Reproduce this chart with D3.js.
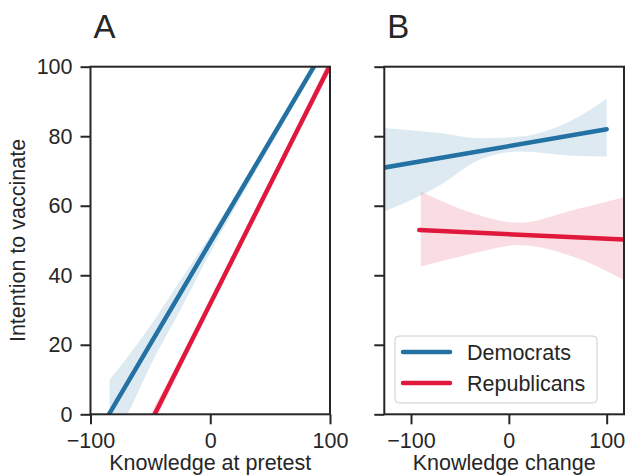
<!DOCTYPE html>
<html><head><meta charset="utf-8">
<script src="https://cdn.jsdelivr.net/npm/d3@7"></script>
<style>
body{margin:0;background:#fff;}
svg text{font-family:"Liberation Sans",Arial,sans-serif;fill:#262626;}
</style></head>
<body><svg id="c" width="627" height="476"></svg>
<script>
// ---------- data ----------
const seriesNames = ["Democrats", "Republicans"];
const colors = ["#2471a3", "#e0183c"];
const yTicks = [0, 20, 40, 60, 80, 100];
const xTicks = [-100, 0, 100];

// Panel A: Knowledge at pretest
const demA_lineX = [-100, 100];
const demA_lineY = [-9.0, 107.9];
const demA_bandX = [-84, -69, -50, -25, 0, 25, 50, 100];
const demA_bandLo = [-9.6, 0, 14, 30, 46.5, 62, 77, 106.8];
const demA_bandHi = [10, 16.5, 25.5, 38.5, 51.5, 65, 79, 109];

const repA_lineX = [-60, 100];
const repA_lineY = [-9.3, 100.4];
const repA_bandX = [-50, 0, 50, 100];
const repA_bandLo = [-5.0, 30.8, 65.4, 98.4];
const repA_bandHi = [0.0, 32.8, 67.4, 102.4];

// Panel B: Knowledge change
const demB_lineX = [-135, 100];
const demB_lineY = [70.6, 82.0];
const demB_bandX = [-135, -125, -70, -30, 11, 65, 100];
const demB_bandLo = [57.5, 58.6, 66.0, 73.2, 75.6, 74.4, 74.2];
const demB_bandHi = [82.5, 82.3, 80.9, 79.4, 79.9, 84.7, 90.8];

const repB_lineX = [-91.5, 125];
const repB_lineY = [53.0, 50.2];
const repB_bandX = [-90, -36, 10, 66, 125];
const repB_bandLo = [42.5, 46.3, 48.7, 45.3, 37.5];
const repB_bandHi = [64.1, 57.8, 55.1, 58.8, 63.0];

// ---------- drawing ----------
const svg = d3.select("#c");
const FS = "21.5px";
const y = d3.scaleLinear().domain([0, 100]).range([414.3, 66.7]);
const xA = d3.scaleLinear().domain([-100, 100]).range([90.5, 330]);
const xB = d3.scaleLinear().domain([-127.3, 117.7]).range([384.3, 624]);

function panel(id, x, dem, rep, showYLabels, xlabel, letter) {
  const g = svg.append("g");
  const [x0, x1] = x.range();
  const [y0, y1] = y.range();
  svg.append("clipPath").attr("id", "clip" + id).append("rect")
    .attr("x", x0).attr("y", y1).attr("width", x1 - x0).attr("height", y0 - y1);
  const plot = g.append("g").attr("clip-path", `url(#clip${id})`);
  [dem, rep].forEach((s, i) => {
    const bd = s.bx.map((v, k) => ({x: v, lo: s.lo[k], hi: s.hi[k]}));
    plot.append("path").datum(bd)
      .attr("d", d3.area().curve(d3.curveMonotoneX).x(d => x(d.x)).y0(d => y(d.lo)).y1(d => y(d.hi)))
      .attr("fill", colors[i]).attr("fill-opacity", 0.15);
  });
  [dem, rep].forEach((s, i) => {
    const ld = s.lx.map((v, k) => ({x: v, y: s.ly[k]}));
    plot.append("path").datum(ld)
      .attr("d", d3.line().x(d => x(d.x)).y(d => y(d.y)))
      .attr("fill", "none").attr("stroke", colors[i]).attr("stroke-width", 4.5)
      .attr("stroke-linecap", "round");
  });
  // axes
  const ax = g.append("g").attr("transform", `translate(0,${y0})`)
    .call(d3.axisBottom(x).tickValues(xTicks).tickSize(10).tickPadding(8)
      .tickFormat(d => d < 0 ? "\u2212" + Math.abs(d) : d));
  const ay = g.append("g").attr("transform", `translate(${x0},0)`)
    .call(d3.axisLeft(y).tickValues(yTicks).tickSize(10).tickPadding(8)
      .tickFormat(showYLabels ? d3.format("d") : () => ""));
  [ax, ay].forEach(a => {
    a.select(".domain").remove();
    a.selectAll(".tick line").attr("stroke", "#262626").attr("stroke-width", 2);
    a.selectAll(".tick text").style("font-size", FS).attr("fill", "#262626");
  });
  // frame
  g.append("rect").attr("x", x0).attr("y", y1).attr("width", x1 - x0).attr("height", y0 - y1)
    .attr("fill", "none").attr("stroke", "#262626").attr("stroke-width", 2);
  g.append("text").attr("x", (x0 + x1) / 2).attr("y", 470).attr("text-anchor", "middle")
    .style("font-size", FS).text(xlabel);
  g.append("text").attr("x", x0 + 3).attr("y", 38).style("font-size", "33px").text(letter);
}

panel("A", xA,
  {lx: demA_lineX, ly: demA_lineY, bx: demA_bandX, lo: demA_bandLo, hi: demA_bandHi},
  {lx: repA_lineX, ly: repA_lineY, bx: repA_bandX, lo: repA_bandLo, hi: repA_bandHi},
  true, "Knowledge at pretest", "A");
panel("B", xB,
  {lx: demB_lineX, ly: demB_lineY, bx: demB_bandX, lo: demB_bandLo, hi: demB_bandHi},
  {lx: repB_lineX, ly: repB_lineY, bx: repB_bandX, lo: repB_bandLo, hi: repB_bandHi},
  false, "Knowledge change", "B");

svg.append("text").attr("transform", "translate(25,240.5) rotate(-90)")
  .attr("text-anchor", "middle").style("font-size", FS).text("Intention to vaccinate");

// legend
const leg = svg.append("g").attr("transform", "translate(395,336)");
leg.append("rect").attr("width", 202).attr("height", 67).attr("rx", 4)
  .attr("fill", "#fff").attr("fill-opacity", 0.8).attr("stroke", "#cccccc").attr("stroke-width", 1);
seriesNames.forEach((n, i) => {
  const yy = 16 + i * 31;
  leg.append("line").attr("x1", 8).attr("x2", 55).attr("y1", yy).attr("y2", yy)
    .attr("stroke", colors[i]).attr("stroke-width", 4.5).attr("stroke-linecap", "round");
  leg.append("text").attr("x", 72).attr("y", yy + 8).style("font-size", FS).text(n);
});
</script></body></html>
